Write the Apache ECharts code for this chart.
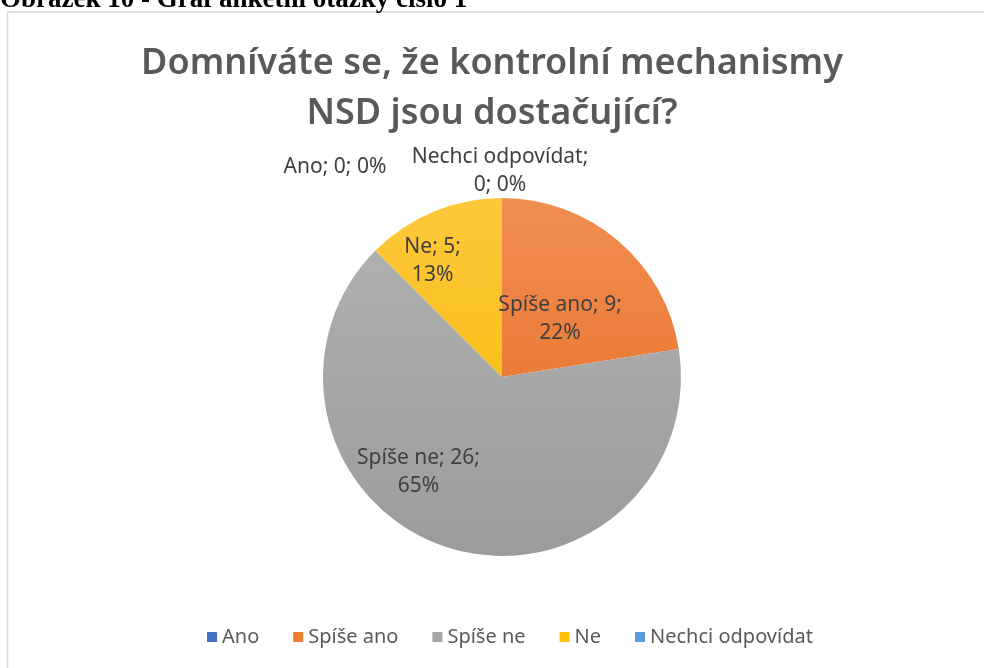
<!DOCTYPE html>
<html>
<head>
<meta charset="utf-8">
<script src="https://cdn.jsdelivr.net/npm/echarts@6/dist/echarts.min.js"></script>
<style>
  html, body { margin: 0; padding: 0; background: #fff; }
  #main { width: 984px; height: 668px; }
</style>
</head>
<body>
<div id="main"></div>
<script>
// data
var categories = ['Ano', 'Spíše ano', 'Spíše ne', 'Ne', 'Nechci odpovídat'];
var counts = [0, 9, 26, 5, 0];
var percents = [0, 22, 65, 13, 0];
// oddělovače v popiscích (za jménem / za hodnotou)
var sepAfterName = [' ', ' ', ' ', ' ', '\n'];
var sepAfterValue = [' ', '\n', '\n', '\n', ' '];

// barvy (horní / dolní část přechodu)
var colorsTop = ['#4a7bd0', '#f18e52', '#b3b3b3', '#ffc83a', '#62a2da'];
var colorsBottom = ['#3f68b5', '#e6691d', '#9b9b9b', '#f0b600', '#5290cc'];
var legendColors = ['#4472c4', '#ed7d31', '#a5a5a5', '#ffc000', '#5b9bd5'];

// posun popisků oproti výchozí pozici
var labelShift = [[-167, -117], [-2, 12], [-55, 7], [-34, -31], [-2, -113]];

var myChart = echarts.init(document.getElementById('main'));

var pieData = categories.map(function (name, i) {
  return {
    name: name,
    value: counts[i],
    itemStyle: {
      color: new echarts.graphic.LinearGradient(0, 198, 0, 556, [
        { offset: 0, color: colorsTop[i] },
        { offset: 1, color: colorsBottom[i] }
      ], true)
    }
  };
});

var option = {
  backgroundColor: '#fff',
  animation: false,
  graphic: [{
    // rámeček grafu
    type: 'rect',
    shape: { x: 7.5, y: 12, width: 1000, height: 700 },
    style: { fill: 'none', stroke: '#d9d9d9', lineWidth: 1.5 },
    silent: true
  }, {
    type: 'text',
    left: 0,
    top: -13,
    style: {
      text: 'Obrázek 10 - Graf anketní otázky číslo 1',
      font: 'bold 27px "Liberation Serif"',
      fill: '#000'
    }
  }],
  title: {
    text: 'Domníváte se, že kontrolní mechanismy\nNSD jsou dostačující?',
    left: 'center',
    top: 34,
    textStyle: {
      fontFamily: 'Noto Sans',
      fontSize: 36,
      fontWeight: 600,
      color: '#595959',
      lineHeight: 50
    }
  },
  legend: {
    bottom: 16,
    left: 202,
    itemWidth: 10,
    itemHeight: 10,
    itemGap: 34,
    icon: 'rect',
    textStyle: {
      fontFamily: 'Noto Sans',
      fontSize: 20,
      color: '#595959'
    },
    data: categories.map(function (name, i) {
      return { name: name, itemStyle: { color: legendColors[i] } };
    })
  },
  series: [{
    type: 'pie',
    center: [502, 377],
    radius: 179,
    startAngle: 90,
    clockwise: true,
    avoidLabelOverlap: false,
    itemStyle: { borderWidth: 0 },
    label: {
      show: true,
      position: 'inside',
      fontFamily: 'Noto Sans',
      fontSize: 21,
      lineHeight: 28,
      color: '#404040',
      align: 'center',
      formatter: function (p) {
        var i = p.dataIndex;
        return p.name + ';' + sepAfterName[i] + p.value + ';' + sepAfterValue[i] + percents[i] + '%';
      }
    },
    labelLine: { show: false },
    emphasis: { disabled: true },
    data: pieData
  }]
};

option.series[0].labelLayout = function (params) {
  var s = labelShift[params.dataIndex];
  return { dx: s[0], dy: s[1] };
};

myChart.setOption(option);
</script>
</body>
</html>
